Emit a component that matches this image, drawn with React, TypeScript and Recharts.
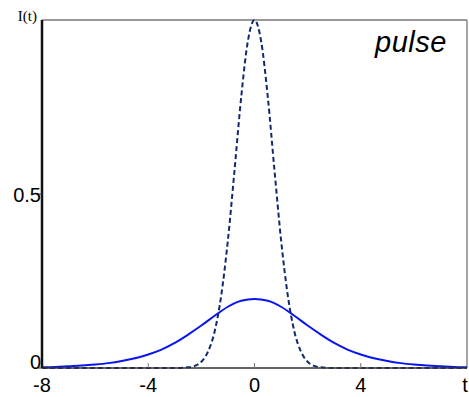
import React from 'react';
import { LineChart, Line, XAxis, YAxis, ReferenceLine } from 'recharts';

// solid curve: wide, low pulse
const solidT = [-8, -7.5, -7, -6.5, -6, -5.5, -5, -4.5, -4, -3.5, -3, -2.5, -2, -1.5, -1, -0.5, 0, 0.5, 1, 1.5, 2, 2.5, 3, 3.5, 4, 4.5, 5, 5.5, 6, 6.5, 7, 7.5, 8];
const solidI = [0.002, 0.003, 0.005, 0.007, 0.01, 0.014, 0.02, 0.028, 0.039, 0.053, 0.072, 0.096, 0.122, 0.15, 0.176, 0.193, 0.198, 0.193, 0.176, 0.15, 0.122, 0.096, 0.072, 0.053, 0.039, 0.028, 0.02, 0.014, 0.01, 0.007, 0.005, 0.003, 0.002];

// dashed curve: narrow, tall pulse
const dashT = [-8, -4, -3, -2.5, -2.25, -2, -1.75, -1.5, -1.25, -1, -0.75, -0.5, -0.25, 0, 0.25, 0.5, 0.75, 1, 1.25, 1.5, 1.75, 2, 2.25, 2.5, 3, 4, 8];
const dashI = [0, 0, 0, 0.002, 0.006, 0.018, 0.047, 0.105, 0.21, 0.368, 0.57, 0.779, 0.939, 1, 0.939, 0.779, 0.57, 0.368, 0.21, 0.105, 0.047, 0.018, 0.006, 0.002, 0, 0, 0];

const xTicks = [-8, -4, 0, 4, 8];
const yTicks = [0, 0.5, 1];

const solidData = solidT.map((t, i) => ({ t, v: solidI[i] }));
const dashData = dashT.map((t, i) => ({ t, v: dashI[i] }));

const sans = '"Liberation Sans", Arial, sans-serif';
const serif = '"Liberation Serif", "Times New Roman", serif';

const XTick = ({ x, y, payload }: any) => {
  const v = payload.value;
  return (
    <g>
      {v > -8 && v < 8 && <line x1={x} x2={x} y1={y} y2={y - 5} stroke="#777" strokeWidth={1} />}
      <text x={x} y={y + 24} textAnchor="middle" fontFamily={sans} fontSize={20} fill="#000">
        {v === 8 ? 't' : String(v)}
      </text>
    </g>
  );
};

const YTick = ({ x, y, payload }: any) => {
  const v = payload.value;
  if (v === 1) {
    return (
      <text x={x - 5} y={y + 1} textAnchor="end" fontFamily={serif} fontSize={15} fill="#000">I(t)</text>
    );
  }
  return (
    <g>
      <line x1={x} x2={x - 4} y1={y} y2={y} stroke="#333" strokeWidth={1} />
      <text x={x - 1} y={v === 0 ? y + 1 : y + 8} textAnchor="end" fontFamily={sans} fontSize={20} fill="#000">
        {String(v)}
      </text>
    </g>
  );
};

export default function App() {
  return (
    <div style={{ position: 'absolute', left: 0, top: 0, background: '#fff' }}>
      <LineChart width={469} height={397} margin={{ top: 20, right: 2, left: 12, bottom: 7 }}>
        <XAxis
          dataKey="t"
          type="number"
          domain={[-8, 8]}
          ticks={xTicks}
          tick={<XTick />}
          tickSize={0}
          tickMargin={0}
          height={22}
          allowDuplicatedCategory={false}
          axisLine={{ stroke: '#333', strokeWidth: 1.5 }}
        />
        <YAxis
          type="number"
          domain={[0, 1]}
          ticks={yTicks}
          tick={<YTick />}
          tickSize={0}
          tickMargin={0}
          width={30}
          axisLine={{ stroke: '#111', strokeWidth: 2.5 }}
        />
        <ReferenceLine y={1} stroke="#333" strokeWidth={1} />
        <ReferenceLine x={8} stroke="#888" strokeWidth={1.5} />
        <Line
          data={solidData}
          dataKey="v"
          type="monotone"
          stroke="#0a14f0"
          strokeWidth={2}
          dot={false}
          isAnimationActive={false}
        />
        <Line
          data={dashData}
          dataKey="v"
          type="monotone"
          stroke="#102a6e"
          strokeWidth={2}
          strokeDasharray="5 3"
          dot={false}
          isAnimationActive={false}
        />
      </LineChart>
      <div
        style={{
          position: 'absolute',
          left: 375,
          top: 26,
          fontFamily: sans,
          fontStyle: 'italic',
          fontSize: 29,
          letterSpacing: 0.5,
          color: '#000',
        }}
      >
        pulse
      </div>
    </div>
  );
}
